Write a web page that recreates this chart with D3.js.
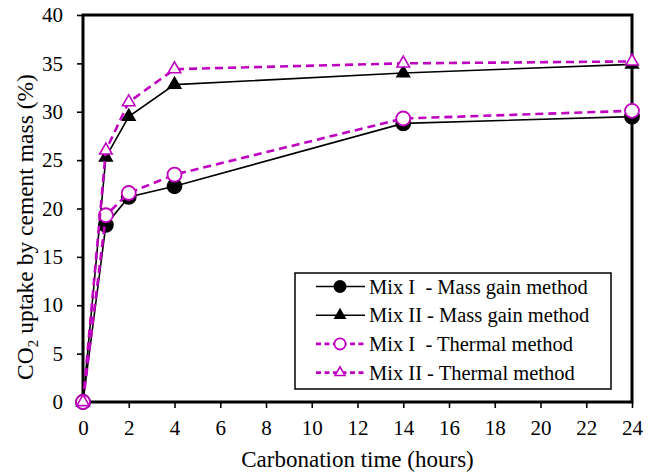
<!DOCTYPE html>
<html>
<head>
<meta charset="utf-8">
<script src="https://cdn.jsdelivr.net/npm/d3@7"></script>
<style>
  body { margin: 0; background: #fff; }
  svg text { font-family: "Liberation Serif", "Times New Roman", serif; fill: #000; }
</style>
</head>
<body>
<div id="chart"></div>
<script>
// carbonation time (hours)
const hours = [0, 1, 2, 4, 14, 24];
// CO2 uptake by cement mass (%)
const mix1Mass = [0, 18.3, 21.2, 22.3, 28.8, 29.5];
const mix2Mass = [0, 25.3, 29.5, 32.8, 34.0, 34.9];
const mix1Thermal = [0, 19.3, 21.6, 23.5, 29.3, 30.1];
const mix2Thermal = [0, 26.0, 31.0, 34.4, 35.0, 35.2];
const seriesNames = ['Mix I  - Mass gain method', 'Mix II - Mass gain method',
                     'Mix I  - Thermal method', 'Mix II - Thermal method'];
const xTicks = d3.range(0, 25, 2);
const yTicks = d3.range(0, 41, 5);

const magenta = '#c000c0';
const series = [
    {name: seriesNames[0], values: mix1Mass, shape: 'circle', filled: true, color: '#000', dash: null, lw: 1.6},
    {name: seriesNames[1], values: mix2Mass, shape: 'triangle', filled: true, color: '#000', dash: null, lw: 1.6},
    {name: seriesNames[2], values: mix1Thermal, shape: 'circle', filled: false, color: magenta, dash: '8,5', lw: 2.6},
    {name: seriesNames[3], values: mix2Thermal, shape: 'triangle', filled: false, color: magenta, dash: '8,5', lw: 2.6}
];

const W = 658, H = 473;
const margin = {top: 15, right: 26, bottom: 71, left: 83};
const width = W - margin.left - margin.right;
const height = H - margin.top - margin.bottom;

const svg = d3.select('#chart').append('svg')
    .attr('width', W)
    .attr('height', H);

const chart = svg.append('g')
    .attr('transform', `translate(${margin.left},${margin.top})`);

const xScale = d3.scaleLinear().domain([0, 24]).range([0, width]);
const yScale = d3.scaleLinear().domain([0, 40]).range([height, 0]);

// axes
const xAxisG = chart.append('g')
    .attr('transform', `translate(0,${height})`)
    .call(d3.axisBottom(xScale).tickValues(xTicks).tickSize(6).tickPadding(12).tickSizeOuter(0));
const yAxisG = chart.append('g')
    .call(d3.axisLeft(yScale).tickValues(yTicks).tickSize(6).tickPadding(14).tickSizeOuter(0));

[xAxisG, yAxisG].forEach(g => {
    g.attr('font-family', null).attr('font-size', null);
    g.select('.domain').remove();
    g.selectAll('line').attr('stroke', '#000').attr('stroke-width', 1.6);
    g.selectAll('text')
        .attr('font-family', 'Liberation Serif')
        .attr('font-size', 21);
});

// frame
chart.append('rect')
    .attr('width', width)
    .attr('height', height)
    .attr('fill', 'none')
    .attr('stroke', '#000')
    .attr('stroke-width', 3);

const line = d3.line()
    .x((d, i) => xScale(hours[i]))
    .y(d => yScale(d));

function drawMarker(g, s, x, y, k) {
    if (s.shape === 'circle') {
        g.append('circle')
            .attr('cx', x).attr('cy', y).attr('r', 7 * k)
            .attr('fill', s.filled ? '#000' : '#fff')
            .attr('stroke', s.color)
            .attr('stroke-width', 1.8);
    } else {
        g.append('path')
            .attr('d', d3.symbol().type(d3.symbolTriangle).size(68 * k * k)())
            .attr('transform', `translate(${x},${y})`)
            .attr('fill', s.filled ? '#000' : '#fff')
            .attr('stroke', s.color)
            .attr('stroke-width', 1.6);
    }
}

series.forEach(s => {
    chart.append('path')
        .datum(s.values)
        .attr('d', line)
        .attr('fill', 'none')
        .attr('stroke', s.color)
        .attr('stroke-width', s.lw)
        .attr('stroke-dasharray', s.dash);
    const mg = chart.append('g');
    s.values.forEach((v, i) => drawMarker(mg, s, xScale(hours[i]), yScale(v), 1));
});

// legend
const legend = chart.append('g')
    .attr('transform', `translate(${295 - margin.left},${273 - margin.top})`);
legend.append('rect')
    .attr('width', 316)
    .attr('height', 116)
    .attr('fill', '#fff')
    .attr('stroke', '#000')
    .attr('stroke-width', 1.5);

series.forEach((s, i) => {
    const row = legend.append('g').attr('transform', `translate(0,${13.5 + i * 28.7})`);
    row.append('line')
        .attr('x1', 21).attr('x2', 70)
        .attr('stroke', s.color)
        .attr('stroke-width', s.lw)
        .attr('stroke-dasharray', s.dash ? '5,3.5' : null);
    drawMarker(row, s, 45, 0, 0.8);
    row.append('text')
        .attr('x', 74)
        .attr('y', 0)
        .attr('dy', '0.35em')
        .attr('font-family', 'Liberation Serif')
        .attr('font-size', 20.5)
        .attr('xml:space', 'preserve')
        .style('white-space', 'pre')
        .text(s.name);
});

// axis titles
svg.append('text')
    .attr('x', margin.left + width / 2)
    .attr('y', 467)
    .attr('text-anchor', 'middle')
    .attr('font-family', 'Liberation Serif')
    .attr('font-size', 23)
    .text('Carbonation time (hours)');

const yTitle = svg.append('text')
    .attr('transform', 'translate(33,227) rotate(-90)')
    .attr('text-anchor', 'middle')
    .attr('font-family', 'Liberation Serif')
    .attr('font-size', 23.5);
yTitle.append('tspan').text('CO');
yTitle.append('tspan').attr('dy', 5).attr('font-size', 15).text('2');
yTitle.append('tspan').attr('dy', -5).text(' uptake by cement mass (%)');
</script>
</body>
</html>
